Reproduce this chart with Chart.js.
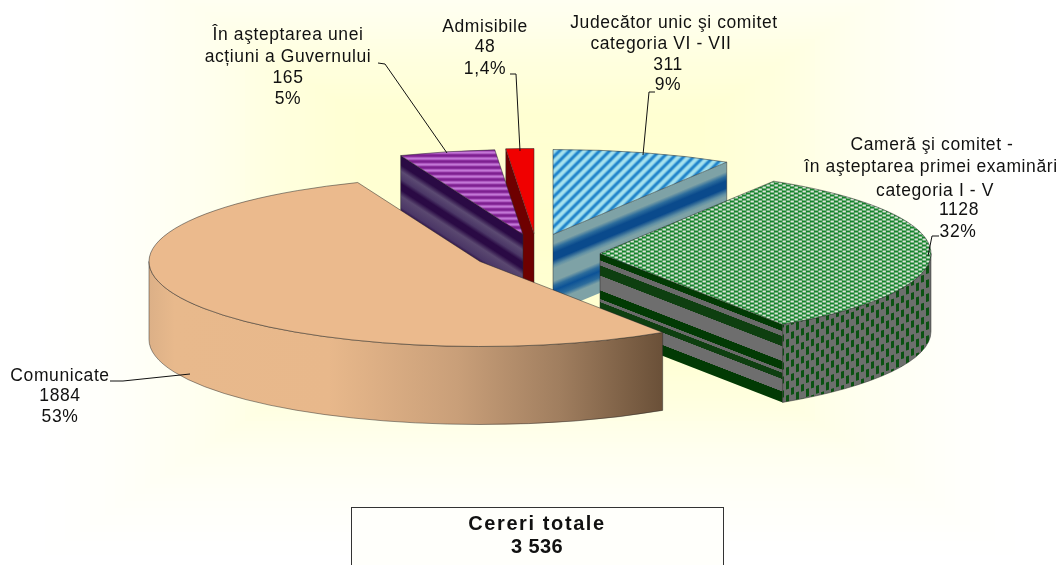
<!DOCTYPE html>
<html>
<head>
<meta charset="utf-8">
<style>
  html, body { margin: 0; padding: 0; background: #fff; }
  #wrap { width: 1062px; height: 565px; }
</style>
</head>
<body>
<div id="wrap"><canvas id="pieChart" width="1062" height="565"></canvas></div>
<script src="https://cdn.jsdelivr.net/npm/chart.js@4/dist/chart.umd.min.js"></script>
<script>
const categories = [
  ["Judecător unic şi comitet", "categoria VI - VII"],
  ["Cameră şi comitet -", "în aşteptarea primei examinări", "categoria I - V"],
  ["Comunicate"],
  ["În aşteptarea unei", "acțiuni a Guvernului"],
  ["Admisibile"],
];
const counts = [311, 1128, 1884, 165, 48];
const percents = ["9%", "32%", "53%", "5%", "1,4%"];
const totalTitle = "Cereri totale";
const totalValue = "3 536";

// look of the tilted pie, Chart.js only knows a flat one
const tiltX = 331 / 282.5;
const tiltY = 85 / 282.5;
const depth = 78;
const explode = [[22, -48], [69, -29], [-51, -21], [-8, -48], [3, -49]];
const drawOrder = [0, 4, 3, 1, 2];
const font = '"Liberation Sans", Arial, sans-serif';

// where each label goes: centre x of every line, middle y of every line, leader line
const labelPlace = [
  { xs: [674, 661, 668, 668], ys: [23, 44, 65, 85], leader: [[655, 92], [649, 92], [643, 155]] },
  { xs: [932, 931, 935, 959, 958], ys: [145, 167, 191, 210, 232], leader: [[939, 236], [932, 236], [928, 256]] },
  { xs: [60, 60, 60], ys: [376, 396, 417], leader: [[110, 381], [123, 381], [190, 374]] },
  { xs: [288, 288, 288, 288], ys: [35, 57, 78, 99], leader: [[378, 63], [385, 64], [447, 153]] },
  { xs: [485, 485, 485], ys: [27, 47, 69], leader: [[510, 74], [516, 74], [520, 151]] },
];

// blue channel of the pale yellow backdrop, from the middle (0) to the rim (1)
const backdropStops = [[0, 208], [0.35, 210], [0.5, 222], [0.65, 238], [0.8, 248], [0.92, 253], [1, 255]];

function makeTile(w, h, paint) {
  const c = document.createElement("canvas");
  c.width = w;
  c.height = h;
  paint(c.getContext("2d"));
  return c.getContext("2d").createPattern(c, "repeat");
}

const blueTop = makeTile(10, 10, (g) => {
  g.fillStyle = "#a6e2ee";
  g.fillRect(0, 0, 10, 10);
  [[4.2, "#70bee2"], [2.4, "#2084ca"]].forEach(([w, col]) => {
    g.strokeStyle = col;
    g.lineWidth = w;
    [[-10, 10, 10, -10], [0, 10, 10, 0], [0, 20, 20, 0]].forEach((p) => {
      g.beginPath();
      g.moveTo(p[0], p[1]);
      g.lineTo(p[2], p[3]);
      g.stroke();
    });
  });
});

const purpleTop = makeTile(2, 6, (g) => {
  ["#7d2090", "#9a3cac", "#c277d6", "#c277d6", "#9a3cac", "#7d2090"].forEach((col, i) => {
    g.fillStyle = col;
    g.fillRect(0, i, 2, 1);
  });
});

const greenTop = makeTile(8, 4, (g) => {
  g.fillStyle = "#dbe6d9";
  g.fillRect(0, 0, 8, 4);
  g.fillStyle = "#14822b";
  g.fillRect(0, 0, 4, 2);
  g.fillRect(4, 2, 4, 2);
  g.fillStyle = "#74b27c";
  g.fillRect(4, 0, 1, 2);
  g.fillRect(0, 2, 1, 2);
});

const greenSide = makeTile(10, 14, (g) => {
  g.fillStyle = "#6d6f6d";
  g.fillRect(0, 0, 10, 14);
  g.fillStyle = "#0b5212";
  g.fillRect(1, 1, 3, 7);
  g.fillRect(6, 7, 3, 7);
  g.fillRect(6, 0, 3, 1);
});
greenSide.setTransform(new DOMMatrix().skewY(-18));

// colour bands down the cut faces, 0 = top edge, 1 = bottom edge
const cutFaces = [
  { edge: "end", stops: [[0, "#7ea2a6"], [0.12, "#7ea2a6"], [0.18, "#2c6c9c"], [0.24, "#0a4a8c"], [0.33, "#0a4a8c"], [0.4, "#5f8fa4"], [0.44, "#7ea2a6"], [0.6, "#7ea2a6"], [0.66, "#2c6c9c"], [0.72, "#0c5296"], [0.8, "#2c6c9c"], [0.86, "#7ea2a6"], [1, "#7ea2a6"]] },
  { edge: "end", stops: [[0, "#023a04"], [0.085, "#023a04"], [0.09, "#6a6a6a"], [0.15, "#6a6a6a"], [0.155, "#0e3f10"], [0.28, "#0e3f10"], [0.285, "#6e6e6e"], [0.47, "#6e6e6e"], [0.475, "#023a04"], [0.58, "#023a04"], [0.585, "#6a6a6a"], [0.62, "#6a6a6a"], [0.625, "#0e3f10"], [0.7, "#0e3f10"], [0.705, "#6e6e6e"], [0.86, "#6e6e6e"], [0.865, "#023a04"], [1, "#023a04"]] },
  null,
  { edge: "start", stops: [[0, "#2a0a44"], [0.12, "#2a0a44"], [0.2, "#5b4a72"], [0.3, "#4b3766"], [0.36, "#2a0a44"], [0.44, "#2a0a44"], [0.52, "#5a4870"], [0.66, "#4b3766"], [0.72, "#2a0a44"], [0.8, "#2a0a44"], [0.88, "#4f3c6a"], [1, "#4b3766"]] },
  { edge: "start", stops: [[0, "#6e0000"], [1, "#6e0000"]] },
];
const outerFaces = [null, greenSide, "peach", null, null];

const peachStops = [[0, "#dcb087"], [0.05, "#e8b98c"], [0.35, "#e8b88b"], [0.6, "#c99f79"], [0.8, "#a07e5f"], [1, "#6a5038"]];

function slicePlace(arc, i) {
  return {
    x: arc.x + explode[i][0],
    y: arc.y + explode[i][1],
    rx: arc.outerRadius * tiltX,
    ry: arc.outerRadius * tiltY,
  };
}

function drawCutFace(ctx, arc, p, face) {
  const a = face.edge === "end" ? arc.endAngle : arc.startAngle;
  const bx = p.x + Math.cos(a) * p.rx;
  const by = p.y + Math.sin(a) * p.ry;
  const slope = (by - p.y) / (bx - p.x);
  ctx.save();
  // shear so the bands run along the cut edge
  ctx.transform(1, slope, 0, 1, 0, p.y - slope * p.x);
  const grad = ctx.createLinearGradient(0, 0, 0, depth);
  face.stops.forEach((s) => grad.addColorStop(s[0], s[1]));
  ctx.fillStyle = grad;
  ctx.fillRect(Math.min(p.x, bx), 0, Math.abs(bx - p.x), depth);
  ctx.restore();
  ctx.strokeStyle = "rgba(40,40,40,0.6)";
  ctx.lineWidth = 0.8;
  ctx.beginPath();
  ctx.moveTo(bx, by);
  ctx.lineTo(bx, by + depth);
  ctx.moveTo(p.x, p.y);
  ctx.lineTo(p.x, p.y + depth);
  ctx.stroke();
}

function drawOuterFace(ctx, arc, p, fill) {
  const from = Math.max(arc.startAngle, 0);
  const to = Math.min(arc.endAngle, Math.PI);
  if (to <= from) return;
  ctx.beginPath();
  ctx.ellipse(p.x, p.y, p.rx, p.ry, 0, from, to);
  ctx.ellipse(p.x, p.y + depth, p.rx, p.ry, 0, to, from, true);
  ctx.closePath();
  if (fill === "peach") {
    const left = p.x + Math.cos(to) * p.rx;
    const right = p.x + Math.cos(from) * p.rx;
    const grad = ctx.createLinearGradient(left, 0, right, 0);
    peachStops.forEach((s) => grad.addColorStop(s[0], s[1]));
    ctx.fillStyle = grad;
  } else {
    ctx.fillStyle = fill;
  }
  ctx.fill();
  ctx.strokeStyle = "rgba(40,40,40,0.6)";
  ctx.lineWidth = 0.8;
  ctx.stroke();
}

function drawTop(ctx, arc, p) {
  const sx = p.rx / arc.outerRadius;
  const sy = p.ry / arc.outerRadius;
  const bg = arc.options.backgroundColor;
  if (bg && bg.setTransform) bg.setTransform(new DOMMatrix().scale(1 / sx, 1 / sy));
  ctx.save();
  ctx.translate(p.x, p.y);
  ctx.scale(sx, sy);
  ctx.translate(-arc.x, -arc.y);
  arc.draw(ctx);
  ctx.restore();
  ctx.beginPath();
  ctx.moveTo(p.x, p.y);
  ctx.ellipse(p.x, p.y, p.rx, p.ry, 0, arc.startAngle, arc.endAngle);
  ctx.closePath();
  ctx.strokeStyle = "rgba(40,40,40,0.65)";
  ctx.lineWidth = 0.8;
  ctx.stroke();
}

function drawText(ctx, text, x, y, weight, size, spacing) {
  ctx.font = weight + " " + size + "px " + font;
  ctx.letterSpacing = spacing + "px";
  ctx.fillText(text, x, y);
}

function backdropBlue(t) {
  for (let i = 1; i < backdropStops.length; i++) {
    const [t0, b0] = backdropStops[i - 1];
    const [t1, b1] = backdropStops[i];
    if (t <= t1) return Math.round(b0 + ((b1 - b0) * (t - t0)) / (t1 - t0));
  }
  return 255;
}

const tiltedPie = {
  id: "tiltedPie",
  beforeDraw(chart) {
    const { ctx, width, height } = chart;
    // rectangular fade, same as the old office chart backdrop
    const cx = 530;
    const cy = 230;
    const hw = 500;
    const hh = 335;
    ctx.save();
    ctx.fillStyle = "#fff";
    ctx.fillRect(0, 0, width, height);
    for (let t = 1; t > 0; t -= 0.01) {
      ctx.fillStyle = "rgb(255,255," + backdropBlue(t) + ")";
      ctx.fillRect(cx - hw * t, cy - hh * t, 2 * hw * t, 2 * hh * t);
    }
    ctx.restore();
  },
  beforeDatasetsDraw(chart) {
    const { ctx } = chart;
    const arcs = chart.getDatasetMeta(0).data;
    drawOrder.forEach((i) => {
      const arc = arcs[i];
      const p = slicePlace(arc, i);
      if (cutFaces[i]) drawCutFace(ctx, arc, p, cutFaces[i]);
      if (outerFaces[i]) drawOuterFace(ctx, arc, p, outerFaces[i]);
      drawTop(ctx, arc, p);
    });
    return false;
  },
  afterDraw(chart) {
    const { ctx } = chart;
    ctx.save();
    ctx.fillStyle = "#111";
    ctx.textAlign = "center";
    ctx.textBaseline = "middle";
    categories.forEach((lines, i) => {
      const all = lines.concat([String(counts[i]), percents[i]]);
      const place = labelPlace[i];
      all.forEach((t, k) => drawText(ctx, t, place.xs[k], place.ys[k], "normal", 17.5, 0.6));
      ctx.strokeStyle = "#111";
      ctx.lineWidth = 1;
      ctx.beginPath();
      place.leader.forEach((pt, k) => (k ? ctx.lineTo(pt[0], pt[1]) : ctx.moveTo(pt[0], pt[1])));
      ctx.stroke();
    });
    // total box, runs off the bottom of the picture
    ctx.fillStyle = "#fffffb";
    ctx.fillRect(352, 507, 371, 70);
    ctx.strokeStyle = "#333";
    ctx.lineWidth = 1;
    ctx.strokeRect(351.5, 507.5, 372, 70);
    ctx.fillStyle = "#111";
    drawText(ctx, totalTitle, 537, 524, "bold", 20, 1.6);
    drawText(ctx, totalValue, 537, 547, "bold", 20, 0.4);
    ctx.restore();
  },
};

new Chart(document.getElementById("pieChart"), {
  type: "pie",
  data: {
    labels: categories.map((c) => c.join(" ")),
    datasets: [
      {
        data: counts,
        backgroundColor: [blueTop, greenTop, "#ebba8d", purpleTop, "#f00000"],
        borderWidth: 0,
      },
    ],
  },
  options: {
    responsive: false,
    animation: false,
    rotation: 0,
    layout: { padding: 0 },
    plugins: {
      legend: { display: false },
      tooltip: { enabled: false },
    },
  },
  plugins: [tiltedPie],
});
</script>
</body>
</html>
